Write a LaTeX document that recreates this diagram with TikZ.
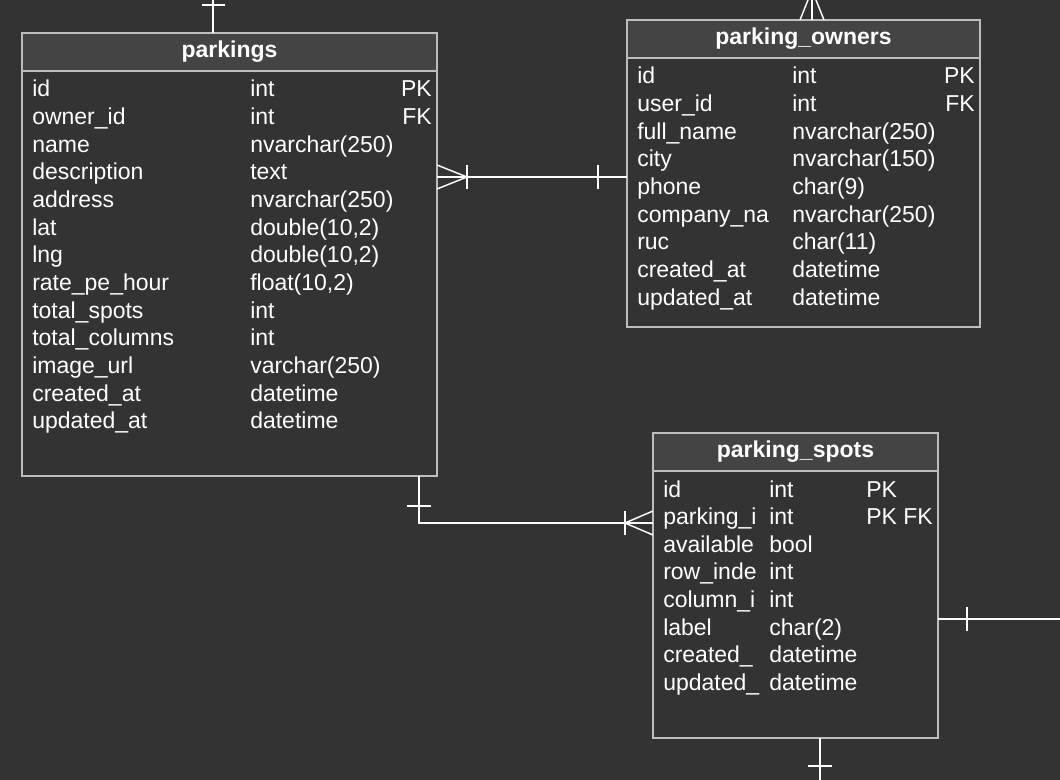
\documentclass[tikz,border=0pt]{standalone}
\usepackage{fontspec}
\setmainfont{Liberation Sans}
\usetikzlibrary{calc,positioning}
\definecolor{bgdark}{HTML}{333333}
\definecolor{hdfill}{HTML}{444444}
\definecolor{tblline}{HTML}{BDBDBD}
\newcommand{\tabfont}{\fontsize{17.25}{20}\selectfont}
\tikzset{
  tbl/.style={draw=tblline, line width=1pt, fill=bgdark, anchor=north west, inner sep=0pt, outer sep=0pt},
  tblhead/.style={tbl, fill=hdfill, minimum height=28.5pt, font=\bfseries\tabfont, text=white},
  field/.style={anchor=base west, inner sep=0pt, font=\tabfont, text=white},
  keyfield/.style={anchor=base east, inner sep=0pt, font=\tabfont, text=white},
  rel/.style={draw=white, line width=1.1pt},
}

\begin{document}
\begin{tikzpicture}[x=0.75pt,y=-0.75pt]
  \useasboundingbox (0,0) rectangle (1060,780);
  \fill[bgdark] (0,0) rectangle (1060,780);
  % Table parkings
  \node[tbl, minimum width=311.25pt, minimum height=332.25pt] (parkings) at (22,33) {};
  \node[tblhead, minimum width=311.25pt] (parkings-hd) at (22,33) {parkings};
  \foreach \fn/\ft/\fk [count=\i from 0] in {id/int/PK, owner\_id/int/FK,
      name/nvarchar(250)/{}, description/text/{}, address/nvarchar(250)/{},
      lat/{double(10,2)}/{}, lng/{double(10,2)}/{}, rate\_pe\_hour/{float(10,2)}/{},
      total\_spots/int/{}, total\_columns/int/{}, image\_url/varchar(250)/{},
      created\_at/datetime/{}, updated\_at/datetime/{}}{
    \node[field] (pk-n\i) at (32,{97+27.65*\i}) {\fn};
    \node[field] (pk-t\i) at (250,{97+27.65*\i}) {\ft};
    \node[keyfield] (pk-k\i) at (432,{97+27.65*\i}) {\fk};
  }
  % Table parking_owners
  \node[tbl, minimum width=264.75pt, minimum height=230.25pt] (owners) at (627,20) {};
  \node[tblhead, minimum width=264.75pt] (owners-hd) at (627,20) {parking\_owners};
  \foreach \fn/\ft/\fk [count=\i from 0] in {id/int/PK, user\_id/int/FK,
      full\_name/nvarchar(250)/{}, city/nvarchar(150)/{}, phone/char(9)/{},
      company\_na/nvarchar(250)/{}, ruc/char(11)/{},
      created\_at/datetime/{}, updated\_at/datetime/{}}{
    \node[field] (po-n\i) at (637,{84+27.65*\i}) {\fn};
    \node[field] (po-t\i) at (792,{84+27.65*\i}) {\ft};
    \node[keyfield] (po-k\i) at (975,{84+27.65*\i}) {\fk};
  }
  % Table parking_spots
  \node[tbl, minimum width=213.75pt, minimum height=228.75pt] (spots) at (653,433) {};
  \node[tblhead, minimum width=213.75pt] (spots-hd) at (653,433) {parking\_spots};
  \foreach \fn/\ft/\fk [count=\i from 0] in {id/int/PK, parking\_i/int/PK FK,
      available/bool/{}, row\_inde/int/{}, column\_i/int/{}, label/char(2)/{},
      created\_/datetime/{}, updated\_/datetime/{}}{
    \node[field] (ps-n\i) at (663,{497+27.65*\i}) {\fn};
    \node[field] (ps-t\i) at (769,{497+27.65*\i}) {\ft};
    \node[field] (ps-k\i) at (866,{497+27.65*\i}) {\fk};
  }
  % parkings -- parking_owners
  \coordinate (r1a) at (parkings.east |- 0,177);
  \coordinate (r1b) at (owners.west |- 0,177);
  \draw[rel] (r1a)--(r1b);
  \draw[rel] ($(r1a)+(0,-12)$)--++(30,12)--++(-30,12);
  \draw[rel] ($(r1a)+(30,-12)$)--++(0,24);
  \draw[rel] ($(r1b)+(-29,-12)$)--++(0,24);
  % parkings -- parking_spots
  \coordinate (r2a) at (parkings.south -| 419,0);
  \coordinate (r2b) at (spots.west |- 0,523);
  \draw[rel] (r2a)|-(r2b);
  \draw[rel] ($(r2a)+(-12,30)$)--++(24,0);
  \draw[rel] ($(r2b)+(0,-12)$)--++(-28,12)--++(28,12);
  \draw[rel] ($(r2b)+(-28,-12)$)--++(0,24);
  % leaving the picture
  \coordinate (r3a) at (parkings.north -| 213,0);
  \draw[rel] (r3a)--++(0,-40);
  \draw[rel] ($(r3a)+(-11,-28)$)--++(23,0);
  \coordinate (r4a) at (owners.north -| 812,0);
  \draw[rel] (r4a)--++(0,-40);
  \draw[rel] ($(r4a)+(-12,0)$)--++(12,-30)--++(12,30);
  \coordinate (r5a) at (spots.east |- 0,619);
  \draw[rel] (r5a)--++(140,0);
  \draw[rel] ($(r5a)+(29,-12)$)--++(0,24);
  \coordinate (r6a) at (spots.south -| 820,0);
  \draw[rel] (r6a)--++(0,60);
  \draw[rel] ($(r6a)+(-12,28)$)--++(24,0);
\end{tikzpicture}
\end{document}
